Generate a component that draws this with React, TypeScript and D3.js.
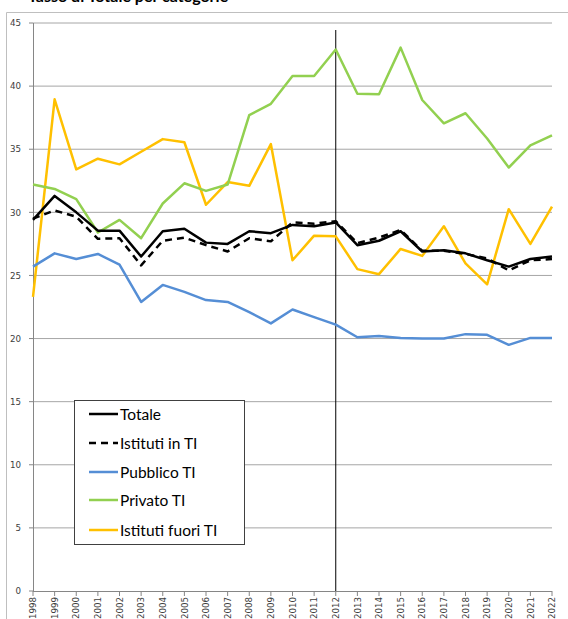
import React from "react";
import * as d3 from "d3";

const years = d3.range(1998, 2023);
const yTicks = [0, 5, 10, 15, 20, 25, 30, 35, 40, 45];

const totale = [29.4, 31.3, 30.0, 28.55, 28.55, 26.5, 28.5, 28.7, 27.6, 27.5, 28.5, 28.35, 29.0, 28.9, 29.2, 27.4, 27.75, 28.5, 26.9, 27.0, 26.75, 26.2, 25.7, 26.3, 26.5];
const istitutiInTI = [29.5, 30.15, 29.65, 27.9, 27.95, 25.8, 27.75, 28.0, 27.4, 26.9, 27.95, 27.7, 29.2, 29.1, 29.3, 27.55, 28.0, 28.6, 26.95, 26.95, 26.7, 26.35, 25.4, 26.2, 26.3];
const pubblicoTI = [25.7, 26.75, 26.3, 26.7, 25.85, 22.9, 24.25, 23.7, 23.05, 22.9, 22.1, 21.2, 22.3, 21.7, 21.1, 20.1, 20.2, 20.05, 20.0, 20.0, 20.35, 20.3, 19.5, 20.05, 20.05];
const privatoTI = [32.2, 31.85, 31.05, 28.4, 29.4, 27.95, 30.7, 32.3, 31.7, 32.2, 37.7, 38.6, 40.8, 40.8, 42.9, 39.4, 39.35, 43.05, 38.9, 37.05, 37.85, 35.85, 33.55, 35.3, 36.1];
const istitutiFuoriTI = [23.3, 38.95, 33.4, 34.25, 33.8, 34.8, 35.8, 35.55, 30.6, 32.4, 32.1, 35.4, 26.2, 28.15, 28.1, 25.5, 25.1, 27.1, 26.55, 28.9, 25.95, 24.3, 30.25, 27.5, 30.45];

const seriesNames = ["Totale", "Istituti in TI", "Pubblico TI", "Privato TI", "Istituti fuori TI"];
const seriesValues = [totale, istitutiInTI, pubblicoTI, privatoTI, istitutiFuoriTI];
const seriesColors = ["#000000", "#000000", "#558ED5", "#92D050", "#FFC000"];
const seriesDash = [null, "7,5", null, null, null];
const markerYear = 2012;

export default function App() {
  const W = 568, H = 619;
  const x = d3.scaleLinear().domain([1998, 2022]).range([33, 552]);
  const y = d3.scaleLinear().domain([0, 45]).range([591, 23]);
  const line = d3.line<number>().x((_, i) => x(years[i])).y((d) => y(d));
  const drawOrder = [4, 3, 2, 1, 0];
  const legendX = 74.5, legendY = 400.5;
  const legendRows = [414, 443, 472, 500, 530];
  return (
    <svg width={W} height={H} style={{ position: "absolute", left: 0, top: 0, background: "#fff" }} fontFamily="'DejaVu Sans', sans-serif">
      <rect x={0} y={0} width={W} height={H} fill="#fff" />
      <text x={28} y={1.5} fontFamily="Lato, sans-serif" fontWeight="bold" fontSize={16} fill="#000">Tasso di Totale per categorie</text>
      <path d={`M6.5,${H} V12.5 H${W}`} fill="none" stroke="#bfbfbf" strokeWidth={1} />
      {yTicks.map((t) => (
        <g key={t}>
          {t > 0 && <line x1={33} x2={552} y1={y(t)} y2={y(t)} stroke="#a6a6a6" strokeWidth={1} />}
          <line x1={29} x2={33} y1={y(t)} y2={y(t)} stroke="#868686" />
          <text x={21} y={y(t) + 3.2} textAnchor="end" fontSize={8.7} fill="#404040">{t}</text>
        </g>
      ))}
      <line x1={33.5} x2={33.5} y1={y(45)} y2={y(0)} stroke="#868686" />
      <line x1={33} x2={552} y1={y(0) + 0.5} y2={y(0) + 0.5} stroke="#868686" />
      {years.map((yr) => (
        <g key={yr}>
          <line x1={x(yr)} x2={x(yr)} y1={591} y2={596} stroke="#868686" />
          <text transform={`translate(${x(yr) + 3.2},597) rotate(-90)`} textAnchor="end" fontSize={8.7} fill="#404040">{yr}</text>
        </g>
      ))}
      <line x1={x(markerYear)} x2={x(markerYear)} y1={30} y2={591} stroke="#000" strokeWidth={1} />
      {drawOrder.map((i) => (
        <path key={i} d={line(seriesValues[i]) || ""} fill="none" stroke={seriesColors[i]} strokeWidth={2.5}
          strokeDasharray={seriesDash[i] || undefined} strokeLinejoin="round" />
      ))}
      <rect x={legendX} y={legendY} width={170} height={144} fill="#fff" stroke="#404040" strokeWidth={1} />
      {seriesNames.map((n, i) => (
        <g key={n}>
          <line x1={89} x2={118} y1={legendRows[i]} y2={legendRows[i]} stroke={seriesColors[i]} strokeWidth={2.5}
            strokeDasharray={seriesDash[i] || undefined} />
          <text x={120} y={legendRows[i] + 5.5} fontFamily="Lato, sans-serif" fontSize={15.5} fill="#000">{n}</text>
        </g>
      ))}
    </svg>
  );
}
